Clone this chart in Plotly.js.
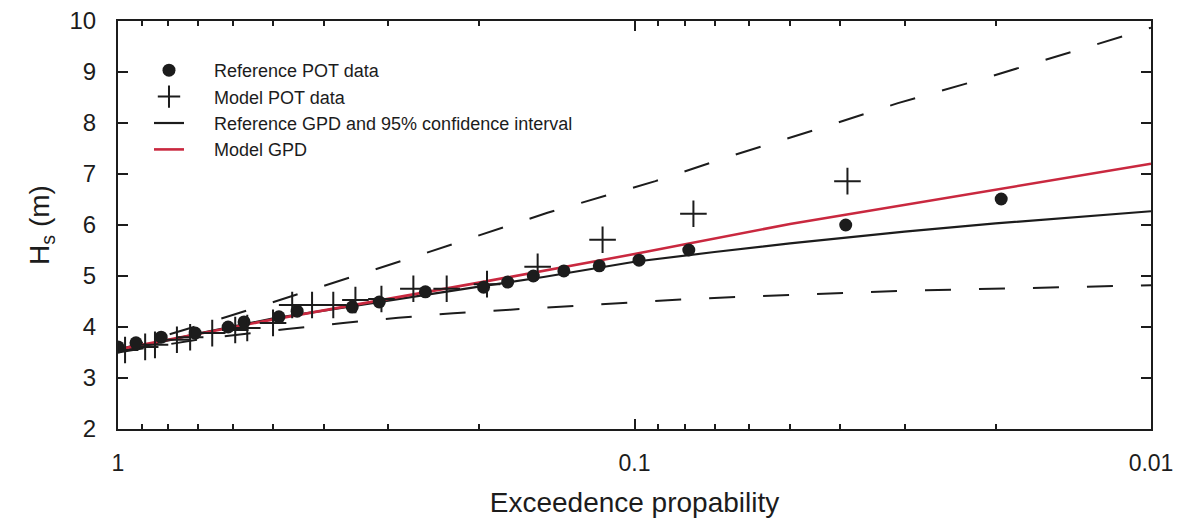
<!DOCTYPE html>
<html>
<head>
<meta charset="utf-8">
<script src="https://cdn.plot.ly/plotly-3.0.1.min.js"></script>
<style>
  html, body { margin: 0; padding: 0; background: #ffffff; }
  #chart { width: 1187px; height: 518px; }
</style>
</head>
<body>
<div id="chart"></div>
<script>
// Reference POT data (dots)
const pRefPot = [1.0, 0.923, 0.825, 0.709, 0.612, 0.570, 0.488, 0.450, 0.352, 0.312, 0.254, 0.196, 0.176, 0.157, 0.137, 0.117, 0.098, 0.0785, 0.039, 0.0195];
const hRefPot = [3.61, 3.69, 3.80, 3.88, 4.00, 4.10, 4.20, 4.31, 4.39, 4.49, 4.69, 4.78, 4.88, 5.00, 5.10, 5.20, 5.31, 5.51, 6.00, 6.51];

// Model POT data (crosses)
const pModelPot = [0.969, 0.886, 0.848, 0.769, 0.725, 0.657, 0.593, 0.562, 0.501, 0.460, 0.421, 0.383, 0.347, 0.309, 0.268, 0.231, 0.193, 0.154, 0.1153, 0.0769, 0.0387];
const hModelPot = [3.55, 3.61, 3.65, 3.75, 3.80, 3.88, 3.94, 3.98, 4.08, 4.43, 4.43, 4.43, 4.53, 4.55, 4.75, 4.75, 4.84, 5.18, 5.71, 6.22, 6.86];

// Reference GPD (solid black)
const pRefGpd = [1, 0.7, 0.5, 0.3, 0.2, 0.15, 0.1, 0.07, 0.05, 0.03, 0.02, 0.01];
const hRefGpd = [3.51, 3.87, 4.17, 4.52, 4.79, 4.98, 5.28, 5.47, 5.64, 5.87, 6.03, 6.27];

// Reference GPD 95% confidence interval - upper (dashed)
const pUpper = [1, 0.615, 0.434, 0.268, 0.1474, 0.0911, 0.0643, 0.0442, 0.0309, 0.0216, 0.01325, 0.01];
const hUpper = [3.55, 4.20, 4.69, 5.37, 6.24, 6.86, 7.37, 7.88, 8.39, 8.84, 9.49, 9.87];

// Reference GPD 95% confidence interval - lower (dashed)
const pLower = [1, 0.694, 0.4705, 0.3664, 0.2867, 0.2243, 0.1739, 0.1348, 0.105, 0.0814, 0.0632, 0.0477, 0.0301, 0.0181, 0.01];
const hLower = [3.50, 3.76, 3.96, 4.08, 4.18, 4.27, 4.34, 4.41, 4.48, 4.54, 4.59, 4.64, 4.71, 4.76, 4.82];

// Model GPD (red)
const pModelGpd = [1, 0.5, 0.2, 0.1, 0.05, 0.02, 0.01];
const hModelGpd = [3.56, 4.15, 4.87, 5.43, 6.02, 6.69, 7.20];

// Legend labels
const legendNames = ['Reference POT data', 'Model POT data', 'Reference GPD and 95% confidence interval', 'Model GPD'];
const PAD = '     ';

// Axis ticks
const xTickVals = [1, 0.1, 0.01];
const xTickText = ['1', '0.1', '0.01'];
const xMinorVals = [0.9, 0.8, 0.7, 0.6, 0.5, 0.4, 0.3, 0.2, 0.09, 0.08, 0.07, 0.06, 0.05, 0.04, 0.03, 0.02];
const yTickVals = [2, 3, 4, 5, 6, 7, 8, 9, 10];

const FONT = '"Liberation Sans", Arial, Helvetica, sans-serif';
const INK = '#1c1c1c';
const RED = '#c9283f';
const DASH = '26px,28px';

const traces = [
  { x: pUpper, y: hUpper, type: 'scatter', mode: 'lines', showlegend: false,
    line: { color: INK, width: 2, dash: DASH }, hoverinfo: 'skip' },
  { x: pLower, y: hLower, type: 'scatter', mode: 'lines', showlegend: false,
    line: { color: INK, width: 2, dash: DASH }, hoverinfo: 'skip' },
  { x: pRefGpd, y: hRefGpd, type: 'scatter', mode: 'lines', name: PAD + legendNames[2],
    legendrank: 3, line: { color: INK, width: 2.2 } },
  { x: pModelGpd, y: hModelGpd, type: 'scatter', mode: 'lines', name: PAD + legendNames[3],
    legendrank: 4, line: { color: RED, width: 2.6 } },
  { x: pRefPot, y: hRefPot, type: 'scatter', mode: 'markers', name: PAD + legendNames[0],
    legendrank: 1, marker: { symbol: 'circle', size: 13, color: INK } },
  { x: pModelPot, y: hModelPot, type: 'scatter', mode: 'markers', name: PAD + legendNames[1],
    legendrank: 2, marker: { symbol: 'cross-thin', size: 19, color: INK, line: { color: INK, width: 2 } } }
];

const layout = {
  width: 1187, height: 518,
  margin: { l: 118, r: 36, t: 21, b: 89 },
  paper_bgcolor: '#ffffff', plot_bgcolor: '#ffffff',
  font: { family: FONT, color: INK },
  showlegend: true,
  legend: {
    x: 0.030, y: 0.924, xanchor: 'left', yanchor: 'top',
    bgcolor: 'rgba(0,0,0,0)', borderwidth: 0,
    font: { family: FONT, size: 18, color: INK },
    traceorder: 'normal', tracegroupgap: 0
  },
  xaxis: {
    type: 'log', range: [0, -2], autorange: false,
    tickmode: 'array', tickvals: xTickVals, ticktext: xTickText,
    ticks: 'inside', ticklen: 10, tickwidth: 2, tickcolor: INK,
    minor: { tickmode: 'array', tickvals: xMinorVals, ticks: 'inside', ticklen: 5, tickwidth: 2, tickcolor: INK, showgrid: false },
    showline: true, linecolor: INK, linewidth: 2, mirror: 'ticks',
    showgrid: false, zeroline: false,
    tickfont: { family: FONT, size: 23, color: INK },
    ticklabelstandoff: 12,
    title: { text: 'Exceedence propability', font: { family: FONT, size: 28, color: INK }, standoff: 18 }
  },
  yaxis: {
    range: [2, 10], autorange: false,
    tickmode: 'array', tickvals: yTickVals,
    ticks: 'inside', ticklen: 10, tickwidth: 2, tickcolor: INK,
    showline: true, linecolor: INK, linewidth: 2, mirror: 'ticks',
    showgrid: false, zeroline: false,
    tickfont: { family: FONT, size: 24, color: INK },
    ticklabelstandoff: 15,
    title: { text: 'H<sub>s</sub> (m)', font: { family: FONT, size: 28, color: INK }, standoff: 12 }
  }
};

Plotly.newPlot('chart', traces, layout, { displayModeBar: false, staticPlot: true });
</script>
</body>
</html>
